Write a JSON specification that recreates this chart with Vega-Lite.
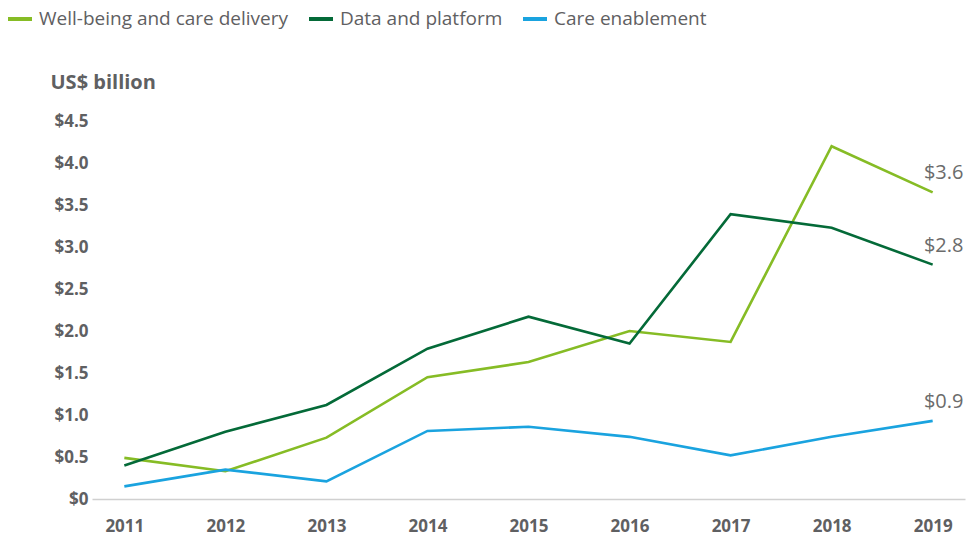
{
  "$schema": "https://vega.github.io/schema/vega-lite/v6.json",
  "width": 873,
  "height": 378,
  "autosize": {"type": "none"},
  "padding": {"left": 92, "top": 121, "right": 2, "bottom": 40},
  "config": {
    "view": {"stroke": null},
    "font": "Open Sans"
  },
  "data": {
    "values": [
      {"year": "2011", "series": "Well-being and care delivery", "value": 0.49},
      {"year": "2012", "series": "Well-being and care delivery", "value": 0.33},
      {"year": "2013", "series": "Well-being and care delivery", "value": 0.73},
      {"year": "2014", "series": "Well-being and care delivery", "value": 1.45},
      {"year": "2015", "series": "Well-being and care delivery", "value": 1.63},
      {"year": "2016", "series": "Well-being and care delivery", "value": 2.0},
      {"year": "2017", "series": "Well-being and care delivery", "value": 1.87},
      {"year": "2018", "series": "Well-being and care delivery", "value": 4.2},
      {"year": "2019", "series": "Well-being and care delivery", "value": 3.65, "label": "$3.6"},
      {"year": "2011", "series": "Data and platform", "value": 0.4},
      {"year": "2012", "series": "Data and platform", "value": 0.8},
      {"year": "2013", "series": "Data and platform", "value": 1.12},
      {"year": "2014", "series": "Data and platform", "value": 1.79},
      {"year": "2015", "series": "Data and platform", "value": 2.17},
      {"year": "2016", "series": "Data and platform", "value": 1.85},
      {"year": "2017", "series": "Data and platform", "value": 3.39},
      {"year": "2018", "series": "Data and platform", "value": 3.23},
      {"year": "2019", "series": "Data and platform", "value": 2.79, "label": "$2.8"},
      {"year": "2011", "series": "Care enablement", "value": 0.15},
      {"year": "2012", "series": "Care enablement", "value": 0.35},
      {"year": "2013", "series": "Care enablement", "value": 0.21},
      {"year": "2014", "series": "Care enablement", "value": 0.81},
      {"year": "2015", "series": "Care enablement", "value": 0.86},
      {"year": "2016", "series": "Care enablement", "value": 0.74},
      {"year": "2017", "series": "Care enablement", "value": 0.52},
      {"year": "2018", "series": "Care enablement", "value": 0.74},
      {"year": "2019", "series": "Care enablement", "value": 0.93, "label": "$0.9"}
    ]
  },
  "encoding": {
    "x": {
      "field": "year",
      "type": "ordinal",
      "scale": {"type": "point", "padding": 0.32},
      "axis": {
        "title": null,
        "labelAngle": 0,
        "ticks": false,
        "domain": true,
        "domainColor": "#d0d0d0",
        "domainWidth": 1.5,
        "labelFont": "Open Sans",
        "labelFontWeight": "bold",
        "labelFontSize": 17,
        "labelColor": "#5f6062",
        "labelPadding": 19
      }
    },
    "y": {
      "field": "value",
      "type": "quantitative",
      "scale": {"domain": [0, 4.5], "nice": false},
      "axis": {
        "values": [0, 0.5, 1, 1.5, 2, 2.5, 3, 3.5, 4, 4.5],
        "labelExpr": "datum.value == 0 ? '$0' : '$' + format(datum.value, '.1f')",
        "grid": false,
        "ticks": false,
        "domain": false,
        "labelFont": "Open Sans",
        "labelFontWeight": "bold",
        "labelFontSize": 17,
        "labelColor": "#5f6062",
        "labelPadding": 4,
        "title": "US$ billion",
        "titleAngle": 0,
        "titleAlign": "left",
        "titleBaseline": "middle",
        "titleX": -42,
        "titleY": -39,
        "titleFont": "Open Sans",
        "titleFontWeight": "bold",
        "titleFontSize": 20,
        "titleColor": "#5f6062"
      }
    }
  },
  "layer": [
    {
      "mark": {"type": "line", "strokeWidth": 2.6},
      "encoding": {
        "color": {
          "field": "series",
          "type": "nominal",
          "scale": {
            "domain": ["Well-being and care delivery", "Data and platform", "Care enablement"],
            "range": ["#86BC25", "#046A38", "#1AA3DF"]
          },
          "legend": {
            "title": null,
            "orient": "none",
            "direction": "horizontal",
            "legendX": -86,
            "legendY": -116,
            "symbolType": "stroke",
            "symbolStrokeWidth": 4,
            "symbolSize": 576,
            "labelFont": "Open Sans",
            "labelFontSize": 19,
            "labelLimit": 400,
            "labelColor": "#5f6062",
            "labelOffset": 5,
            "columnPadding": 12
          }
        }
      }
    },
    {
      "mark": {"type": "text", "align": "center", "baseline": "middle", "dx": 11, "dy": -19, "fontSize": 20, "color": "#6b6b6b", "font": "Open Sans"},
      "transform": [{"filter": "datum.label != null"}],
      "encoding": {
        "text": {"field": "label"}
      }
    }
  ]
}
